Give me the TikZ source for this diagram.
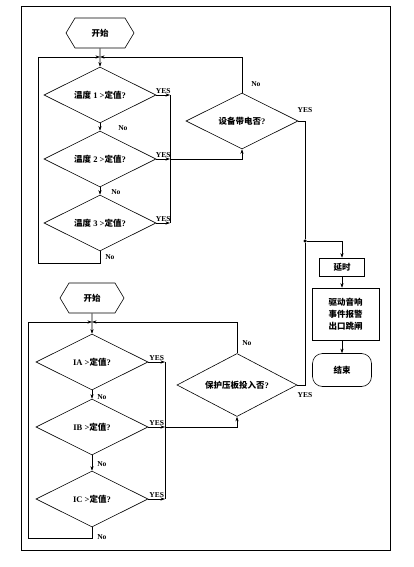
\documentclass[tikz,border=0pt]{standalone}
\usepackage{fontspec}
\setmainfont{Liberation Serif}
\newfontfamily\zh{Noto Sans CJK SC}
\usetikzlibrary{positioning,shapes.geometric,shapes.symbols,arrows.meta}
\newcommand{\cn}[1]{{\zh\bfseries #1}}

\begin{document}
\begin{tikzpicture}[
  x=1pt, y=-1pt,
  line width=0.6pt,
  >={Stealth[length=4.5pt,width=3.2pt]},
  test/.style={diamond, draw, aspect=2, minimum width=112pt, minimum height=56pt, inner sep=0pt, font=\fontsize{8.5}{10}\selectfont\bfseries},
  startbox/.style={signal, signal to=west and east, signal pointer angle=118, draw, minimum width=68pt, minimum height=30pt, inner sep=0pt, font=\fontsize{8.5}{10}\selectfont},
  block/.style={rectangle, draw, minimum width=45pt, minimum height=18pt, inner sep=0pt, font=\fontsize{8.5}{10}\selectfont},
  finishbox/.style={rectangle, draw, rounded corners=10pt, minimum width=59pt, minimum height=33pt, font=\fontsize{8.5}{10}\selectfont},
  answer/.style={font=\fontsize{7.5}{8}\selectfont\bfseries, inner sep=1pt},
  dot/.style={circle, fill, inner sep=0pt, minimum size=3.5pt}
]
\useasboundingbox (0,0) rectangle (413,567);
\draw[line width=1pt] (21,7) rectangle (390,550);

% upper loop
\node[startbox] (start_a) at (100,33) {\cn{开始}};
\node[test, below of=start_a, node distance=62pt] (temp_a) {\cn{温度} 1 >\cn{定值}?};
\node[test, below of=temp_a, node distance=64pt] (temp_b) {\cn{温度} 2 >\cn{定值}?};
\node[test, below of=temp_b, node distance=64pt] (temp_c) {\cn{温度} 3 >\cn{定值}?};
\node[test, right of=temp_a, node distance=142pt, yshift=-26pt] (power) {\cn{设备带电否}?};
\coordinate (join_a) at (100,57);
\coordinate (back_a) at (38,263);
\coordinate (bus_a) at (170,159);

% lower loop
\node[startbox, minimum width=64pt] (start_b) at (92,298) {\cn{开始}};
\node[test, below of=start_b, node distance=64pt] (ia) {IA >\cn{定值}?};
\node[test, below of=ia, node distance=65pt] (ib) {IB >\cn{定值}?};
\node[test, below of=ib, node distance=72pt] (ic) {IC >\cn{定值}?};
\node[test, minimum width=120pt, minimum height=63pt, right of=ia, node distance=145pt, yshift=-23pt] (plate) {\cn{保护压板投入否}?};
\coordinate (join_b) at (92,322);
\coordinate (back_b) at (28,538);
\coordinate (bus_b) at (165,427);

% output
\node[dot] (tap) at (305,241) {};
\node[block] (delay) at (342,267) {\cn{延时}};
\node[block, minimum width=67pt, minimum height=52pt, below of=delay, node distance=47pt, xshift=3.5pt, align=center, font=\fontsize{8.5}{12}\selectfont] (action) {\cn{驱动音响}\\\cn{事件报警}\\\cn{出口跳闸}};
\node[finishbox, below of=delay, node distance=103pt] (finish) {\cn{结束}};

\draw[->] (start_a) -- (temp_a);
\draw[->] (temp_a) -- node[answer, pos=0.7, right=17pt] {No} (temp_b);
\draw[->] (temp_b) -- node[answer, pos=0.65, right=10pt] {No} (temp_c);
\draw[->] (temp_c) |- node[answer, pos=0.23, right=4pt] {No} (back_a) |- (join_a);
\draw[->] (temp_a) -- node[answer, above] {YES} (temp_a -| bus_a);
\draw[->] (temp_b) -- node[answer, above] {YES} (temp_b -| bus_a);
\draw[->] (temp_c) -- node[answer, above] {YES} (temp_c -| bus_a);
\draw (temp_a -| bus_a) -- (temp_c -| bus_a);
\draw[->] (bus_a) -| (power);
\draw[->] (power) |- node[answer, pos=0.125, right=8pt] {No} (join_a);

\draw[->] (start_b) -- (ia);
\draw[->] (ia) -- node[answer, pos=0.75, right=4pt] {No} (ib);
\draw[->] (ib) -- node[answer, pos=0.6, right=4pt] {No} (ic);
\draw[->] (ic) |- node[answer, pos=0.46, right=4pt] {No} (back_b) |- (join_b);
\draw[->] (ia) -- node[answer, above] {YES} (ia -| bus_b);
\draw[->] (ib) -- node[answer, above] {YES} (ib -| bus_b);
\draw[->] (ic) -- node[answer, above] {YES} (ic -| bus_b);
\draw (ia -| bus_b) -- (ic -| bus_b);
\draw[->] (bus_b) -| (plate);
\draw[->] (plate) |- node[answer, pos=0.16, right=4pt] {No} (join_b);

\draw (power) -| node[answer, pos=0.5, above=7pt] {YES} (tap);
\draw (plate) -| node[answer, pos=0.5, below=6pt] {YES} (tap);
\draw[->] (tap) -| (delay);
\draw[->] (delay) -- (delay |- action.north);
\draw[->] (delay |- action.south) -- (finish);
\end{tikzpicture}
\end{document}
